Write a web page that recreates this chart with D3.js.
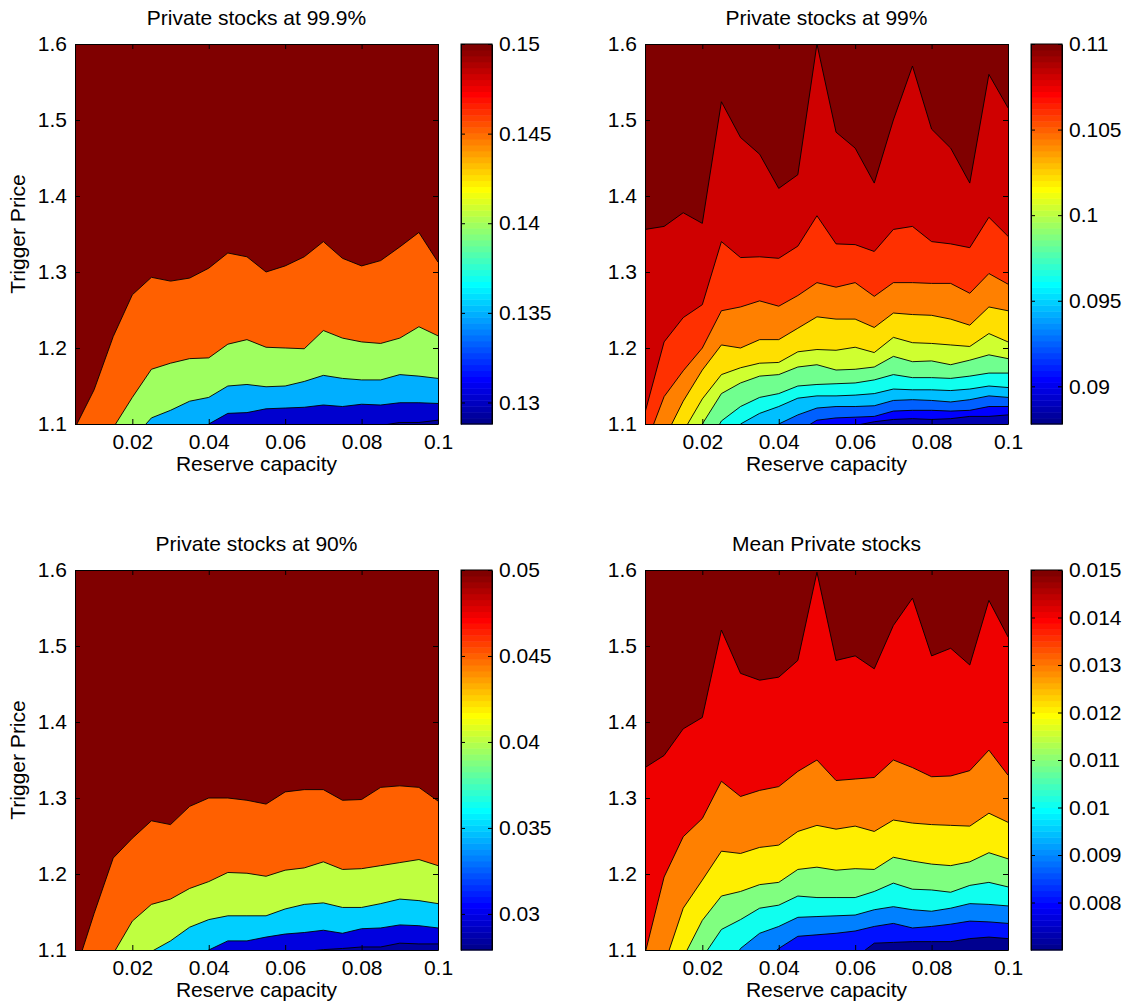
<!DOCTYPE html>
<html>
<head>
<meta charset="utf-8">
<script src="https://cdn.jsdelivr.net/npm/d3@7"></script>
<style>
  body { margin: 0; background: #fff; }
  svg text { font-family: "Liberation Sans", Arial, sans-serif; font-size: 21px; fill: #000; }
  .domain { stroke: #000; }
</style>
</head>
<body>
<svg id="chart" width="1129" height="1008"></svg>
<script>
// reserve capacity grid (x) used by all contour boundaries
const xGrid = [0.005, 0.01, 0.015, 0.02, 0.025, 0.03, 0.035, 0.04, 0.045, 0.05,
               0.055, 0.06, 0.065, 0.07, 0.075, 0.08, 0.085, 0.09, 0.095, 0.1];
const xTicks = [0.02, 0.04, 0.06, 0.08, 0.1];
const yTicks = [1.1, 1.2, 1.3, 1.4, 1.5, 1.6];

// --- Private stocks at 99.9% : contour boundaries (trigger price), low to high
const p999Levels = [0.1292, 0.1304, 0.135, 0.140, 0.1452, 0.15];
const p999Lines = [
  [1.0,1.0,1.0,1.0,1.0,1.0,1.0,1.0,1.0,1.0,1.0,1.02,1.04,1.06,1.08,1.09,1.098,1.102,1.102,1.105],
  [1.0,1.0,1.0,1.0,1.0,1.0,1.05,1.1,1.114,1.115,1.12,1.121,1.122,1.125,1.123,1.126,1.125,1.128,1.128,1.127],
  [1.0,1.0,1.0,1.08,1.108,1.118,1.13,1.135,1.15,1.152,1.149,1.15,1.156,1.164,1.16,1.158,1.158,1.165,1.163,1.16],
  [1.0,1.04,1.095,1.135,1.172,1.18,1.186,1.187,1.205,1.211,1.201,1.2,1.199,1.223,1.213,1.208,1.206,1.213,1.228,1.216],
  [1.095,1.145,1.215,1.27,1.293,1.288,1.292,1.305,1.325,1.32,1.30,1.308,1.32,1.34,1.318,1.308,1.315,1.333,1.352,1.313]
];
const p999CTicks = [0.13, 0.135, 0.14, 0.145, 0.15];

// --- Private stocks at 99%
const p99Levels = [0.0886, 0.0905, 0.0925, 0.0944, 0.0964, 0.0983, 0.1003, 0.1022, 0.1042, 0.1061, 0.1081, 0.11];
const p99Lines = [
  [1.0,1.0,1.0,1.0,1.0,1.0,1.0,1.0,1.0,1.03,1.07,1.098,1.103,1.106,1.107,1.106,1.107,1.11,1.11,1.112],
  [1.0,1.0,1.0,1.0,1.0,1.0,1.0,1.0,1.09,1.105,1.108,1.109,1.11,1.117,1.118,1.118,1.117,1.118,1.123,1.123],
  [1.0,1.0,1.0,1.0,1.0,1.04,1.07,1.1,1.112,1.121,1.123,1.123,1.124,1.131,1.132,1.131,1.129,1.132,1.137,1.135],
  [1.0,1.0,1.0,1.03,1.07,1.1,1.114,1.123,1.134,1.137,1.137,1.138,1.14,1.146,1.145,1.145,1.144,1.146,1.15,1.148],
  [1.0,1.0,1.02,1.06,1.104,1.123,1.135,1.14,1.15,1.152,1.153,1.154,1.158,1.165,1.161,1.161,1.16,1.163,1.167,1.167],
  [1.0,1.02,1.06,1.1,1.14,1.154,1.163,1.165,1.175,1.178,1.171,1.172,1.175,1.189,1.182,1.183,1.178,1.184,1.191,1.186],
  [1.02,1.05,1.09,1.133,1.165,1.174,1.18,1.181,1.195,1.198,1.197,1.201,1.194,1.214,1.207,1.206,1.204,1.202,1.219,1.208],
  [1.04,1.08,1.13,1.171,1.204,1.2,1.211,1.211,1.226,1.241,1.238,1.238,1.227,1.246,1.244,1.243,1.238,1.23,1.254,1.249],
  [1.07,1.136,1.17,1.2,1.249,1.254,1.262,1.255,1.269,1.286,1.28,1.286,1.268,1.286,1.286,1.285,1.285,1.272,1.298,1.284],
  [1.115,1.208,1.24,1.257,1.34,1.319,1.32,1.318,1.334,1.374,1.337,1.336,1.327,1.356,1.36,1.34,1.337,1.332,1.372,1.347],
  [1.356,1.36,1.378,1.364,1.524,1.477,1.455,1.41,1.428,1.60,1.484,1.463,1.417,1.50,1.571,1.488,1.463,1.417,1.56,1.516]
];
const p99CTicks = [0.09, 0.095, 0.1, 0.105, 0.11];

// --- Private stocks at 90%
const p90Levels = [0.0283, 0.0298, 0.035, 0.0403, 0.0451, 0.05];
const p90Lines = [
  [1.0,1.0,1.0,1.0,1.0,1.0,1.0,1.0,1.0,1.0,1.0,1.09,1.098,1.1005,1.102,1.104,1.104,1.109,1.108,1.108],
  [1.0,1.0,1.0,1.0,1.0,1.0,1.08,1.1,1.112,1.112,1.117,1.121,1.123,1.126,1.122,1.128,1.129,1.133,1.132,1.129],
  [1.0,1.0,1.02,1.06,1.098,1.112,1.13,1.14,1.145,1.145,1.145,1.154,1.16,1.162,1.156,1.156,1.161,1.167,1.165,1.161],
  [1.0,1.04,1.095,1.138,1.16,1.167,1.181,1.19,1.202,1.201,1.197,1.205,1.208,1.216,1.206,1.207,1.211,1.215,1.219,1.211],
  [1.07,1.148,1.221,1.247,1.27,1.265,1.289,1.3,1.3,1.297,1.292,1.308,1.311,1.311,1.297,1.298,1.314,1.316,1.314,1.296]
];
const p90CTicks = [0.03, 0.035, 0.04, 0.045, 0.05];

// --- Mean Private stocks
const meanLevels = [0.0071, 0.008, 0.009, 0.010, 0.011, 0.012, 0.013, 0.014, 0.015];
const meanLines = [
  [1.0,1.0,1.0,1.0,1.0,1.0,1.0,1.0,1.0,1.0,1.0,1.09,1.109,1.11,1.111,1.111,1.111,1.115,1.117,1.115],
  [1.0,1.0,1.0,1.0,1.0,1.04,1.08,1.102,1.118,1.12,1.122,1.125,1.131,1.135,1.129,1.131,1.134,1.138,1.137,1.135],
  [1.0,1.0,1.0,1.0,1.06,1.102,1.122,1.131,1.143,1.144,1.145,1.146,1.153,1.157,1.153,1.151,1.155,1.161,1.16,1.158],
  [1.0,1.0,1.04,1.09,1.127,1.14,1.155,1.159,1.171,1.169,1.169,1.169,1.177,1.188,1.18,1.179,1.176,1.185,1.189,1.183],
  [1.0,1.04,1.09,1.139,1.171,1.177,1.186,1.189,1.206,1.209,1.205,1.207,1.206,1.222,1.217,1.213,1.211,1.216,1.228,1.22],
  [1.02,1.08,1.155,1.192,1.23,1.227,1.235,1.238,1.256,1.264,1.259,1.263,1.256,1.271,1.267,1.265,1.264,1.263,1.28,1.268],
  [1.095,1.196,1.249,1.273,1.322,1.302,1.31,1.315,1.335,1.35,1.323,1.325,1.327,1.35,1.34,1.328,1.329,1.336,1.363,1.33],
  [1.34,1.356,1.391,1.406,1.521,1.464,1.455,1.459,1.481,1.597,1.481,1.487,1.47,1.527,1.563,1.487,1.497,1.475,1.56,1.512]
];
const meanCTicks = [0.008, 0.009, 0.01, 0.011, 0.012, 0.013, 0.014, 0.015];

const panels = [
  { title: "Private stocks at 99.9%", lines: p999Lines, levels: p999Levels, cdom: [0.1288, 0.15], cticks: p999CTicks, ox: 75, oy: 44, ylab: true },
  { title: "Private stocks at 99%", lines: p99Lines, levels: p99Levels, cdom: [0.0878, 0.11], cticks: p99CTicks, ox: 645, oy: 44, ylab: false },
  { title: "Private stocks at 90%", lines: p90Lines, levels: p90Levels, cdom: [0.0279, 0.05], cticks: p90CTicks, ox: 75, oy: 570, ylab: true },
  { title: "Mean Private stocks", lines: meanLines, levels: meanLevels, cdom: [0.007, 0.015], cticks: meanCTicks, ox: 645, oy: 570, ylab: false }
];

// MATLAB jet(64)
function jet64() {
  const m = 64, u = [];
  for (let j = 1; j <= 47; j++) u.push(j <= 16 ? j / 16 : j <= 31 ? 1 : (48 - j) / 16);
  const get = i => (i >= 1 && i <= 47) ? u[i - 1] : 0;
  const cols = [];
  for (let k = 1; k <= m; k++) {
    const r = get(k - 24), g = get(k - 8), b = get(k + 8);
    cols.push(d3.rgb(r * 255, g * 255, b * 255).toString());
  }
  return cols;
}
const jet = jet64();

const W = 363, H = 380;
const svg = d3.select("#chart");
const fmt = d => String(+d.toFixed(4));

panels.forEach((p, pi) => {
  const g = svg.append("g").attr("transform", `translate(${p.ox},${p.oy})`);
  const x = d3.scaleLinear().domain([0.005, 0.1]).range([0, W]);
  const y = d3.scaleLinear().domain([1.1, 1.6]).range([H, 0]);
  const cIdx = v => Math.max(0, Math.min(63, Math.floor((v - p.cdom[0]) / (p.cdom[1] - p.cdom[0]) * 64)));
  const color = v => jet[cIdx(v)];

  const clipId = "clip" + pi;
  g.append("clipPath").attr("id", clipId).append("rect").attr("width", W).attr("height", H);
  const plot = g.append("g").attr("clip-path", `url(#${clipId})`);

  plot.append("rect").attr("width", W).attr("height", H).attr("fill", color(p.levels[0]));

  const area = d3.area().x((d, i) => x(xGrid[i])).y0(d => y(d)).y1(y(1.7));
  const line = d3.line().x((d, i) => x(xGrid[i])).y(d => y(d));

  p.lines.forEach((b, k) => {
    plot.append("path").attr("d", area(b)).attr("fill", color(p.levels[k + 1]));
  });
  p.lines.forEach(b => {
    plot.append("path").attr("d", line(b)).attr("fill", "none").attr("stroke", "#000").attr("stroke-width", 0.9);
  });

  // axes with inward ticks
  g.append("g").attr("transform", `translate(0,${H})`)
    .call(d3.axisBottom(x).tickValues(xTicks).tickSize(-5).tickSizeOuter(0).tickPadding(10).tickFormat(fmt));
  g.append("g").call(d3.axisTop(x).tickValues(xTicks).tickSize(-5).tickSizeOuter(0).tickFormat(""));
  g.append("g").call(d3.axisLeft(y).tickValues(yTicks).tickSize(-5).tickSizeOuter(0).tickPadding(8).tickFormat(d3.format(".1f")));
  g.append("g").attr("transform", `translate(${W},0)`)
    .call(d3.axisRight(y).tickValues(yTicks).tickSize(-5).tickSizeOuter(0).tickFormat(""));
  g.selectAll("g").attr("font-size", null).attr("font-family", null);

  g.append("text").attr("x", W / 2).attr("y", -19).attr("text-anchor", "middle").text(p.title);
  g.append("text").attr("x", W / 2).attr("y", H + 47).attr("text-anchor", "middle").text("Reserve capacity");
  if (p.ylab) {
    g.append("text").attr("transform", `translate(-50,${H / 2}) rotate(-90)`)
      .attr("text-anchor", "middle").text("Trigger Price");
  }

  // colorbar
  const cb = g.append("g").attr("transform", `translate(386,0)`);
  const cw = 31;
  const cy = d3.scaleLinear().domain(p.cdom).range([H, 0]);
  const step = (p.cdom[1] - p.cdom[0]) / 64;
  cb.selectAll("rect.c").data(jet).join("rect")
    .attr("x", 0).attr("width", cw)
    .attr("y", (d, i) => cy(p.cdom[0] + (i + 1) * step))
    .attr("height", (d, i) => cy(p.cdom[0] + i * step) - cy(p.cdom[0] + (i + 1) * step) + 0.5)
    .attr("fill", d => d);
  cb.append("g").attr("transform", `translate(${cw},0)`)
    .call(d3.axisRight(cy).tickValues(p.cticks).tickSize(-4).tickSizeOuter(0).tickPadding(7).tickFormat(fmt));
  cb.append("g").call(d3.axisLeft(cy).tickValues(p.cticks).tickSize(-4).tickSizeOuter(0).tickFormat(""));
  cb.append("rect").attr("width", cw).attr("height", H).attr("fill", "none").attr("stroke", "#000");
  cb.selectAll("g").attr("font-size", null).attr("font-family", null);
});
</script>
</body>
</html>
